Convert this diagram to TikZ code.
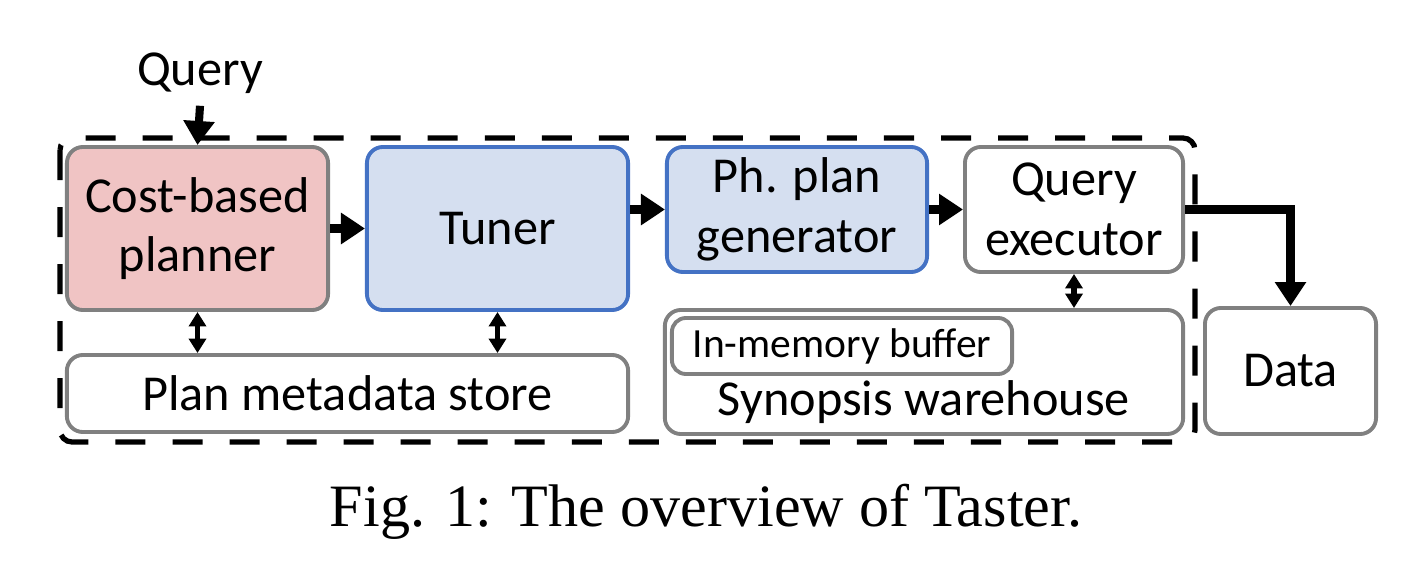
\documentclass[tikz,border=0pt]{standalone}
\usepackage{fontspec}
\setmainfont{Carlito}
\newfontfamily\captionfont{Liberation Serif}
\usetikzlibrary{arrows.meta}

\definecolor{plannerred}{RGB}{240,196,196}
\definecolor{tunerblue}{RGB}{213,223,240}
\definecolor{tunerline}{RGB}{68,114,196}
\definecolor{boxgray}{RGB}{128,128,128}

\tikzset{
  block/.style={draw=boxgray,line width=1.1pt,rounded corners=0.16cm,fill=white,
    align=center,inner sep=0pt,font=\fontsize{14.3}{17}\selectfont},
  blueblock/.style={block,draw=tunerline,fill=tunerblue},
  flow/.style={line width=2.3pt,-{Triangle[length=0.24cm,width=0.30cm]}},
  link/.style={line width=1.6pt,{Triangle[length=0.145cm,width=0.17cm]}-{Triangle[length=0.145cm,width=0.17cm]}},
}

\begin{document}
\begin{tikzpicture}[x=0.01cm,y=-0.01cm]
  \useasboundingbox (0,0) rectangle (1424,567);

  % system frame
  \draw[line width=1.5pt,dash pattern=on 0.3cm off 0.27cm,rounded corners=0.12cm]
    (60,138) rectangle (1195,442);

  \node[font=\fontsize{14.3}{17}\selectfont] (query) at (200,73) {Query};

  \node[block,fill=plannerred,minimum width=2.61cm,minimum height=1.63cm] (planner) at (197.5,228.5) {Cost-based\\planner};
  \node[blueblock,minimum width=2.61cm,minimum height=1.63cm] (tuner) at (497.5,228.5) {Tuner};
  \node[blueblock,minimum width=2.60cm,minimum height=1.25cm] (phgen) at (797,209.5) {Ph. plan\\generator};
  \node[block,minimum width=2.18cm,minimum height=1.25cm] (qexec) at (1074,209.5) {Query\\executor};

  \node[block,minimum width=5.61cm,minimum height=0.77cm] (meta) at (347.5,393.5) {Plan metadata store};
  \node[block,minimum width=5.18cm,minimum height=1.24cm] (synopsis) at (924,372) {};
  \node[font=\fontsize{14.3}{17}\selectfont] (syntext) at (924,402) {Synopsis warehouse};
  \node[block,minimum width=3.40cm,minimum height=0.56cm,rounded corners=0.14cm,
    font=\fontsize{11.8}{14}\selectfont] (buffer) at (842,346) {In-memory buffer};

  \node[block,minimum width=1.71cm,minimum height=1.26cm] (data) at (1290.5,371) {Data};

  % data flow
  \draw[flow] (query.south) -- (planner.north);
  \draw[flow] (planner.east) -- (tuner.west);
  \draw[flow] (tuner.east |- phgen.west) -- (phgen.west);
  \draw[flow] (phgen.east) -- (qexec.west);
  \draw[flow] (qexec.east) -| (data.north);

  % store access
  \draw[link] (planner.south) -- (planner.south |- meta.north);
  \draw[link] (tuner.south) -- (tuner.south |- meta.north);
  \draw[link] (qexec.south) -- (qexec.south |- synopsis.north);

  \node[font=\captionfont\fontsize{17.1}{20}\selectfont] (caption) at (706,512) {Fig. 1: The overview of Taster.};
\end{tikzpicture}
\end{document}
